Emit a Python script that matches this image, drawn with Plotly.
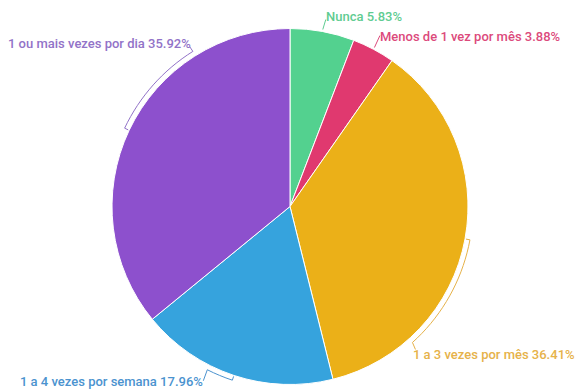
import math
import plotly.graph_objects as go

# Survey answers: how often respondents do the activity
categories = [
    "Nunca",
    "Menos de 1 vez por mês",
    "1 a 3 vezes por mês",
    "1 a 4 vezes por semana",
    "1 ou mais vezes por dia",
]
shares = [5.83, 3.88, 36.41, 17.96, 35.92]

slice_colors = ["#53D18F", "#E0396F", "#EBB018", "#36A3DD", "#8D50CD"]
label_colors = ["#5FCC92", "#DC4A7C", "#E6B24A", "#4B93CF", "#9273C8"]

# Canvas and pie geometry (pixels)
W, H = 577, 389
CX, CY, R = 290.0, 206.5, 178.0

# Label callout styling per slice:
# sweep along the rim (deg), leader vector (px), text offset (px), text side
callouts = [
    dict(sweep=0.0, lead=(3, -10), off=(0, -3), side="left"),
    dict(sweep=0.0, lead=(5.5, -12), off=(0.5, 1), side="left"),
    dict(sweep=37.5, lead=(3, 7), off=(-2, 5), side="left"),
    dict(sweep=8.5, lead=(-4, 11), off=(0, 0.5), side="right"),
    dict(sweep=32.6, lead=(-3, -4.5), off=(1.5, -3.5), side="right"),
]


def px_to_paper(x, y):
    return x / W, 1 - y / H


def polar(angle_deg, radius):
    a = math.radians(angle_deg)
    return CX + radius * math.sin(a), CY - radius * math.cos(a)


def path_from(points):
    parts = []
    for i, (x, y) in enumerate(points):
        px, py = px_to_paper(x, y)
        parts.append(("M" if i == 0 else "L") + f"{px:.5f},{py:.5f}")
    return " ".join(parts)


fig = go.Figure(
    go.Pie(
        labels=categories,
        values=shares,
        sort=False,
        direction="clockwise",
        rotation=0,
        marker=dict(colors=slice_colors, line=dict(color="white", width=1)),
        textinfo="none",
        hoverinfo="label+percent",
        showlegend=False,
        domain=dict(
            x=[(CX - R) / W, (CX + R) / W],
            y=[1 - (CY + R) / H, 1 - (CY - R) / H],
        ),
    )
)

total = sum(shares)
shapes = []
annotations = []
cum = 0.0
for name, val, col, cfg in zip(categories, shares, label_colors, callouts):
    mid = (cum + val / 2) / total * 360.0
    cum += val
    pts = []
    ring = R + 5
    if cfg["sweep"] > 0:
        # small tick pointing at the slice, then an arc hugging the rim
        pts.append(polar(mid, R + 1))
        steps = max(4, int(cfg["sweep"] / 2))
        for k in range(steps + 1):
            pts.append(polar(mid + cfg["sweep"] * k / steps, ring))
    else:
        pts.append(polar(mid, R + 2))
    ex, ey = pts[-1]
    lx, ly = ex + cfg["lead"][0], ey + cfg["lead"][1]
    pts.append((lx, ly))
    shapes.append(
        dict(
            type="path",
            xref="paper",
            yref="paper",
            path=path_from(pts),
            line=dict(color=col, width=1),
            fillcolor="rgba(0,0,0,0)",
        )
    )
    tx, ty = px_to_paper(lx + cfg["off"][0], ly + cfg["off"][1])
    pct = val / total * 100
    annotations.append(
        dict(
            x=tx,
            y=ty,
            xref="paper",
            yref="paper",
            text=f"{name} {pct:.2f}%",
            showarrow=False,
            xanchor=cfg["side"],
            yanchor="middle",
            borderpad=0,
            borderwidth=0,
            font=dict(family="Roboto", size=13, color=col, weight=500),
        )
    )

fig.update_layout(
    width=W,
    height=H,
    margin=dict(l=0, r=0, t=0, b=0),
    paper_bgcolor="white",
    plot_bgcolor="white",
    shapes=shapes,
    annotations=annotations,
)

fig.write_html("out.html")
